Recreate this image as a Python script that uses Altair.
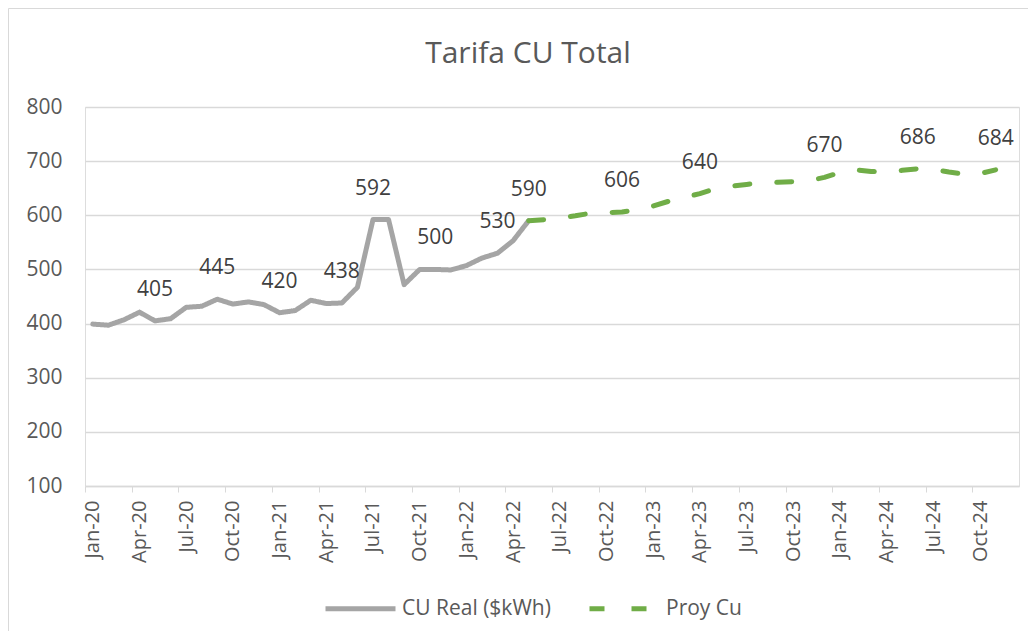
import altair as alt
import pandas as pd

# ---- data -------------------------------------------------------------
title_text = "Tarifa CU Total"
years = ["20", "21", "22", "23", "24"]
month_abbr = ["Jan", "Feb", "Mar", "Apr", "May", "Jun",
              "Jul", "Aug", "Sep", "Oct", "Nov", "Dec"]
months = [f"{m}-{y}" for y in years for m in month_abbr]

real_name = "CU Real ($kWh)"
proy_name = "Proy Cu"

# CU Real: Jan-20 .. May-22
real_values = [399, 397, 407, 421, 405, 409, 430, 432, 445, 436, 440, 435,
               420, 424, 443, 437, 438, 467, 592, 592, 472, 500, 500, 499,
               507, 521, 530, 553, 590]
# Proy Cu: May-22 .. Nov-24
proy_start = "May-22"
proy_values = [590, 592, 595, 599, 604, 605, 606, 611, 617, 626, 633, 640,
               649, 654, 657, 660, 661, 662, 664, 670, 679, 684, 681, 680,
               683, 686, 685, 680, 676, 677, 684]

label_months = ["May-20", "Sep-20", "Jan-21", "May-21", "Jul-21", "Nov-21",
                "Mar-22", "May-22", "Nov-22", "Apr-23", "Dec-23", "Jun-24",
                "Nov-24"]

tick_months = months[::3]

# ---- tables -----------------------------------------------------------
p0 = months.index(proy_start)
df_real = pd.DataFrame({"mes": months[:len(real_values)], "valor": real_values,
                        "serie": real_name})
df_proy = pd.DataFrame({"mes": months[p0:p0 + len(proy_values)],
                        "valor": proy_values, "serie": proy_name})
df = pd.concat([df_real, df_proy], ignore_index=True)

lookup = dict(zip(df_proy["mes"], df_proy["valor"]))
lookup.update(dict(zip(df_real["mes"], df_real["valor"])))
df_lab = pd.DataFrame({"mes": label_months,
                       "valor": [lookup[m] for m in label_months]})
df_title = pd.DataFrame({"t": [title_text]})

# ---- layout -----------------------------------------------------------
W, H = 934, 379
step = W / len(months)
font = "Open Sans"
axis_grey = "#595959"

x_enc = alt.X("mes:N", sort=months,
              scale=alt.Scale(domain=months, type="point", padding=0.5),
              axis=alt.Axis(title=None, values=tick_months, labelAngle=-90,
                            labelFont=font, labelFontSize=20, labelColor=axis_grey,
                            tickOffset=-step / 2, labelOffset=step / 2,
                            tickSize=6, tickColor="#D9D9D9", tickWidth=1,
                            domainColor="#D9D9D9", domainWidth=1.5,
                            labelPadding=8, grid=False))
y_enc = alt.Y("valor:Q",
              scale=alt.Scale(domain=[100, 800], nice=False, zero=False),
              axis=alt.Axis(title=None, values=list(range(100, 801, 100)),
                            labelFont=font, labelFontSize=21, labelColor=axis_grey,
                            ticks=False, domain=False, labelPadding=23,
                            grid=True, gridColor="#D9D9D9", gridWidth=1.5))

legend_opts = dict(title=None, orient="none", direction="horizontal",
                   legendX=238, legendY=464, symbolType="stroke",
                   symbolSize=4900, symbolStrokeWidth=5, labelFont=font,
                   labelFontSize=21, labelColor=axis_grey, labelOffset=4,
                   columnPadding=28, padding=0)

lines = alt.Chart(df).mark_line(strokeWidth=5, strokeJoin="round",
                                strokeCap="round").encode(
    x=x_enc, y=y_enc,
    color=alt.Color("serie:N",
                    scale=alt.Scale(domain=[real_name, proy_name],
                                    range=["#A5A5A5", "#70AD47"]),
                    legend=alt.Legend(**legend_opts)),
    strokeDash=alt.StrokeDash("serie:N",
                              scale=alt.Scale(domain=[real_name, proy_name],
                                              range=[[1, 0], [15, 27]]),
                              legend=alt.Legend(**legend_opts)),
    order=alt.Order("serie:N"),
)

labels = alt.Chart(df_lab).mark_text(font=font, fontSize=21, color="#404040",
                                     baseline="middle", align="center",
                                     dy=-31).encode(
    x=alt.X("mes:N", sort=months), y="valor:Q", text="valor:Q")

title = alt.Chart(df_title).mark_text(font=font, fontSize=30, color=axis_grey,
                                      baseline="alphabetic",
                                      align="center").encode(
    text="t:N", x=alt.value(W / 2 - 24), y=alt.value(-44))

border_left = alt.Chart(df_title).mark_rule(color="#D9D9D9", strokeWidth=1).encode(
    x=alt.value(-76.5), y=alt.value(-98.5), y2=alt.value(530))
border_top = alt.Chart(df_title).mark_rule(color="#D9D9D9", strokeWidth=1).encode(
    x=alt.value(-76.5), x2=alt.value(950), y=alt.value(-98.5))

chart = alt.layer(border_left, border_top, lines, labels, title).properties(
    width=W, height=H,
    autosize=alt.AutoSizeParams(type="none"),
    padding={"left": 77, "top": 99, "right": 9, "bottom": 145},
).configure_view(stroke=None).configure(background="white")

chart.save("out.html", embed_options={"renderer": "svg", "actions": False})
